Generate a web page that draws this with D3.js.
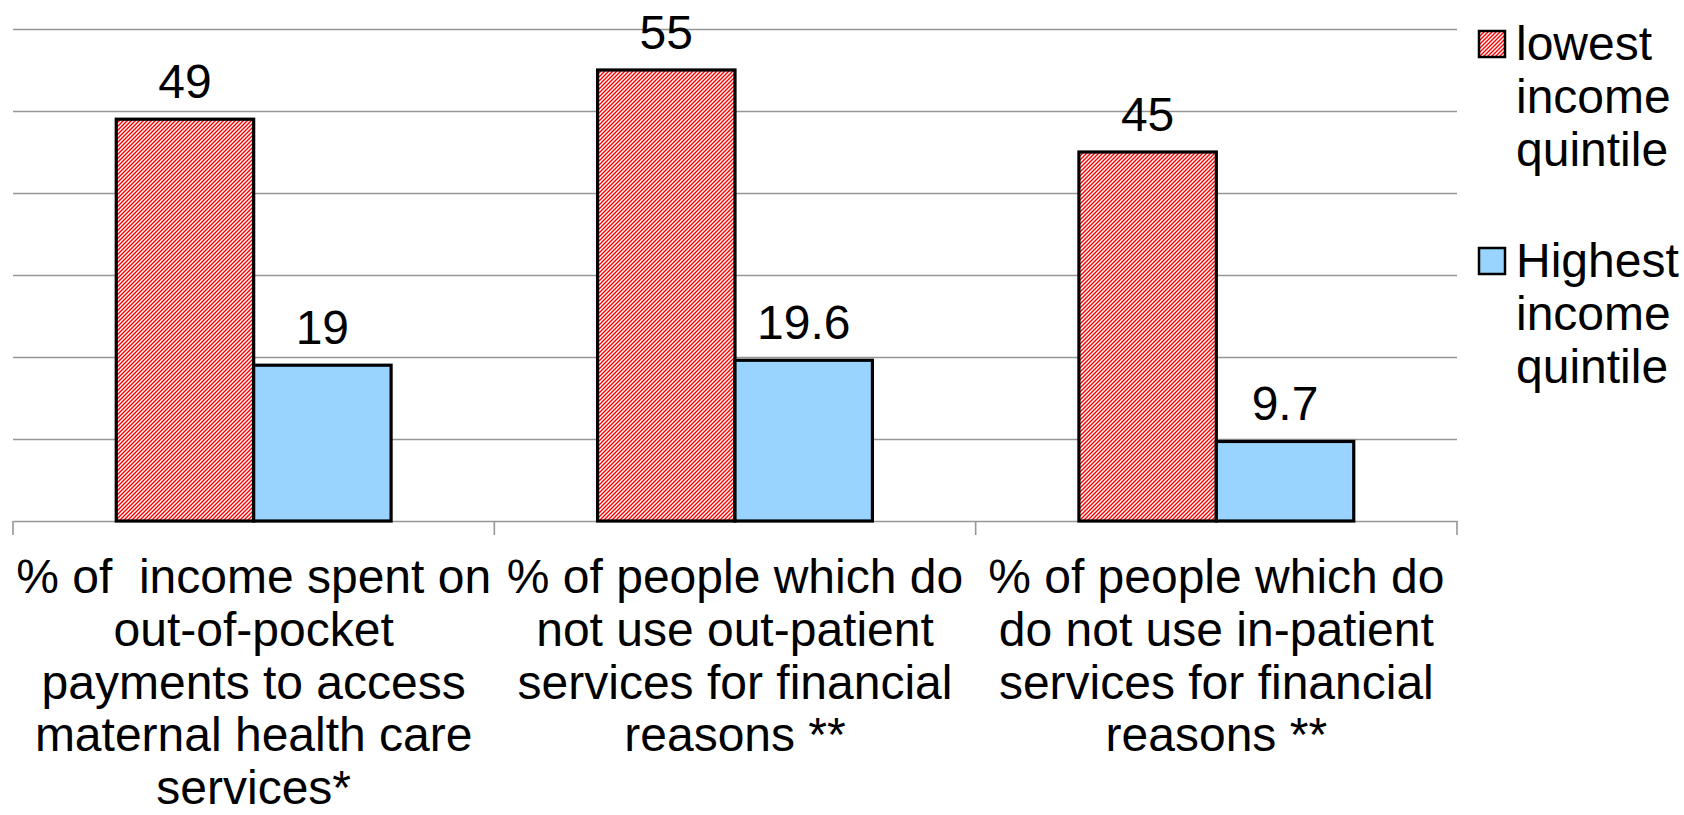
<!DOCTYPE html>
<html>
<head>
<meta charset="utf-8">
<script src="https://cdn.jsdelivr.net/npm/d3@7"></script>
<style>
  html, body { margin: 0; padding: 0; background: #fff; }
  svg { display: block; }
  text { font-family: "Liberation Sans", Arial, sans-serif; fill: #000; }
</style>
</head>
<body>
<svg id="chart" width="1684" height="815"></svg>
<script>
// ---- data ----
const categories = [
  "% of  income spent on out-of-pocket payments to access maternal health care services*",
  "% of people which do not use out-patient services for financial reasons **",
  "% of people which do do not use in-patient services for financial reasons **"
];
const categoryLines = [
  ["% of  income spent on", "out-of-pocket", "payments to access", "maternal health care", "services*"],
  ["% of people which do", "not use out-patient", "services for financial", "reasons **"],
  ["% of people which do", "do not use in-patient", "services for financial", "reasons **"]
];
const seriesNames = ["lowest income quintile", "Highest income quintile"];
const legendLines = [["lowest", "income", "quintile"], ["Highest", "income", "quintile"]];
const lowestValues = [49, 55, 45];
const highestValues = [19, 19.6, 9.7];
const valueLabels = [["49", "55", "45"], ["19", "19.6", "9.7"]];
const yTicks = [0, 10, 20, 30, 40, 50, 60];

// ---- layout ----
const svg = d3.select("#chart");
const plot = { left: 13, right: 1457, top: 29, bottom: 521 };
const FS = 48;

const x0 = d3.scaleBand().domain(categories).range([plot.left, plot.right]).padding(0);
const bw = x0.bandwidth();
const x1 = d3.scaleBand().domain(seriesNames).range([bw * 0.2145, bw * 0.7855]).padding(0);
const y = d3.scaleLinear().domain([0, 60]).range([plot.bottom, plot.top]);

// pattern
const defs = svg.append("defs");
const pat = defs.append("pattern")
  .attr("id", "hatch").attr("patternUnits", "userSpaceOnUse")
  .attr("width", 4).attr("height", 4);
pat.append("rect").attr("width", 4).attr("height", 4).attr("fill", "#fff");
pat.append("path")
  .attr("d", "M-1,1 L1,-1 M0,4 L4,0 M3,5 L5,3")
  .attr("stroke", "#ff0000").attr("stroke-width", 1.4);

const fills = ["url(#hatch)", "#99D3FF"];

// gridlines
svg.append("g").selectAll("line")
  .data(yTicks.filter(d => d > 0))
  .join("line")
  .attr("x1", plot.left).attr("x2", plot.right)
  .attr("y1", d => Math.round(y(d)) + 0.5).attr("y2", d => Math.round(y(d)) + 0.5)
  .attr("stroke", "#969696").attr("stroke-width", 1.6);

// x axis
const xAxis = svg.append("g")
  .attr("transform", `translate(0,${plot.bottom})`)
  .call(d3.axisBottom(x0).tickSize(0).tickFormat(""));
xAxis.select(".domain").attr("stroke", "#969696").attr("stroke-width", 1.6);
const boundaries = categories.map(c => x0(c)).concat([plot.right]);
svg.append("g").selectAll("line").data(boundaries).join("line")
  .attr("x1", d => d).attr("x2", d => d)
  .attr("y1", plot.bottom).attr("y2", plot.bottom + 14)
  .attr("stroke", "#969696").attr("stroke-width", 1.6);

// bars
const seriesVals = [lowestValues, highestValues];
seriesNames.forEach((s, si) => {
  svg.append("g").selectAll("rect")
    .data(categories.map((c, i) => ({ c, v: seriesVals[si][i], i })))
    .join("rect")
    .attr("x", d => x0(d.c) + x1(s))
    .attr("y", d => y(d.v))
    .attr("width", x1.bandwidth())
    .attr("height", d => y(0) - y(d.v))
    .attr("fill", fills[si])
    .attr("stroke", "#000").attr("stroke-width", 3.2);
  svg.append("g").selectAll("text")
    .data(categories.map((c, i) => ({ c, v: seriesVals[si][i], i })))
    .join("text")
    .attr("x", d => x0(d.c) + x1(s) + x1.bandwidth() / 2)
    .attr("y", d => y(d.v) - 21)
    .attr("text-anchor", "middle")
    .attr("font-size", FS)
    .text(d => valueLabels[si][d.i]);
});

// category labels
categories.forEach((c, i) => {
  const t = svg.append("text")
    .attr("text-anchor", "middle")
    .attr("font-size", FS);
  categoryLines[i].forEach((ln, li) => {
    t.append("tspan")
      .attr("x", x0(c) + bw / 2)
      .attr("y", 593 + li * 52.8)
      .attr("xml:space", "preserve")
      .text(ln);
  });
});

// legend
const legendTop = [31, 248];
seriesNames.forEach((s, si) => {
  svg.append("rect")
    .attr("x", 1479).attr("y", legendTop[si])
    .attr("width", 26).attr("height", 26)
    .attr("fill", fills[si])
    .attr("stroke", "#000").attr("stroke-width", 2.5);
  const t = svg.append("text").attr("font-size", FS);
  legendLines[si].forEach((ln, li) => {
    t.append("tspan")
      .attr("x", 1516)
      .attr("y", legendTop[si] + 29 + li * 53)
      .text(ln);
  });
});
</script>
</body>
</html>
